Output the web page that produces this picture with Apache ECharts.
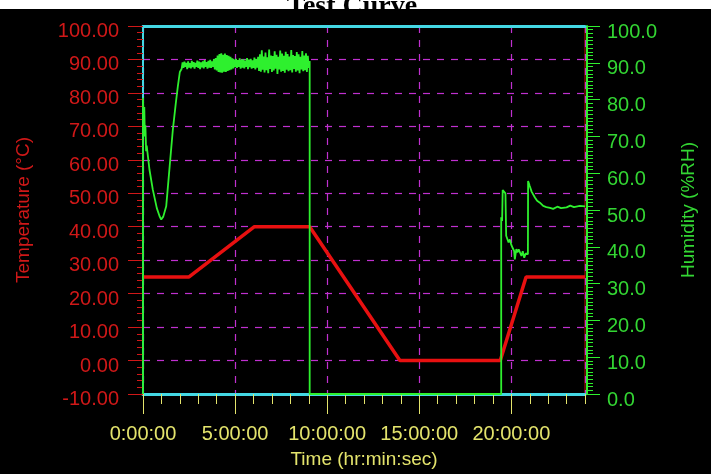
<!DOCTYPE html>
<html>
<head>
<meta charset="utf-8">
<script src="https://cdn.jsdelivr.net/npm/echarts@6/dist/echarts.min.js"></script>
<style>
html,body{margin:0;padding:0;}
body{background:linear-gradient(#ffffff 0px,#ffffff 9px,#000000 9px,#000000 100%);width:711px;height:474px;overflow:hidden;}
#chart{width:711px;height:474px;}
</style>
</head>
<body>
<div id="chart"></div>
<script>
// Temperature profile [hours, °C]
var temperature = [[0, 25], [2.5, 25], [6.05, 40], [9.05, 40], [13.95, 0], [19.4, 0], [20.8, 25], [24, 25]];

// Humidity [hours, %RH] — start and pull-down
var humStart = [
  [0, 0], [0, 80.5], [0.04, 74], [0.07, 78], [0.10, 70], [0.13, 73], [0.17, 66], [0.20, 67.5], [0.35, 61],
  [0.53, 55.6], [0.75, 50.5], [0.90, 48.3], [0.99, 47.4], [1.10, 48.2], [1.26, 51], [1.45, 62], [1.62, 71.8],
  [1.78, 79], [1.89, 83.5], [2.00, 87.5]
];
// Humidity plateau around 90 %RH
var humPlateau = [
  [2.10, 88.4], [2.15, 90.1], [2.20, 88.6], [2.25, 90.3], [2.30, 88.9], [2.35, 90.0], [2.40, 88.3], [2.45, 90.4],
  [2.50, 88.7], [2.55, 89.9], [2.60, 88.5], [2.65, 90.5], [2.70, 88.8], [2.75, 90.2], [2.80, 88.4], [2.85, 90.0],
  [2.90, 88.9], [2.95, 90.6], [3.00, 88.6], [3.05, 90.3], [3.10, 88.3], [3.15, 90.1], [3.20, 88.8], [3.25, 90.4],
  [3.30, 88.5], [3.35, 90.7], [3.40, 88.9], [3.45, 90.2], [3.50, 88.4], [3.55, 90.5], [3.60, 88.7], [3.65, 90.8],
  [3.70, 88.6], [3.75, 90.4], [3.80, 88.9], [3.85, 91.0], [3.90, 88.2], [3.95, 91.3],
  [4.00, 87.9], [4.05, 92.0], [4.10, 87.5], [4.15, 92.4], [4.20, 87.4], [4.25, 92.6], [4.30, 87.3], [4.35, 92.2],
  [4.40, 87.6], [4.45, 92.5], [4.50, 87.5], [4.55, 92.1], [4.60, 87.8], [4.65, 91.9], [4.70, 88.0], [4.75, 91.6],
  [4.80, 88.2], [4.85, 91.2],
  [4.90, 88.5], [4.95, 90.9], [5.00, 88.8], [5.05, 91.1], [5.10, 88.6], [5.15, 90.7], [5.20, 88.9], [5.25, 91.2],
  [5.30, 88.4], [5.35, 90.8], [5.40, 88.7], [5.45, 91.0], [5.50, 88.5], [5.55, 90.6], [5.60, 88.9], [5.65, 91.3],
  [5.70, 88.3], [5.75, 90.9], [5.80, 88.8], [5.85, 91.1], [5.90, 88.4], [5.95, 90.7], [6.00, 88.6], [6.05, 91.4],
  [6.10, 88.2], [6.15, 91.0], [6.20, 88.7], [6.25, 91.6],
  [6.30, 87.8], [6.35, 92.3], [6.40, 87.6], [6.45, 93.4], [6.50, 88.1], [6.55, 91.7], [6.60, 87.4], [6.65, 92.8],
  [6.70, 88.0], [6.75, 91.5], [6.80, 87.2], [6.85, 93.6], [6.90, 88.3], [6.95, 92.0], [7.00, 87.5], [7.05, 91.8],
  [7.10, 87.9], [7.15, 93.1], [7.20, 88.4], [7.25, 92.2], [7.30, 87.0], [7.35, 91.6], [7.40, 88.2], [7.45, 93.3],
  [7.50, 87.6], [7.55, 92.5], [7.60, 87.8], [7.65, 91.9], [7.70, 87.3], [7.75, 93.0], [7.80, 88.1], [7.85, 92.4],
  [7.90, 87.7], [7.95, 91.7], [8.00, 88.0], [8.05, 93.5], [8.10, 87.4], [8.15, 92.1], [8.20, 88.3], [8.25, 91.8],
  [8.30, 87.6], [8.35, 92.9], [8.40, 87.9], [8.45, 92.3], [8.50, 87.2], [8.55, 91.6], [8.60, 88.2], [8.65, 93.2],
  [8.70, 87.7], [8.75, 92.0], [8.80, 88.0], [8.85, 92.6], [8.90, 87.5], [8.95, 91.9], [9.00, 88.6], [9.05, 90.5]
];
// Humidity off, then recovery
var humEnd = [
  [9.05, 0], [19.45, 0], [19.45, 48], [19.50, 47], [19.53, 55.4], [19.60, 55.0], [19.68, 54.5], [19.72, 43],
  [19.80, 42.5], [19.85, 41.2], [19.92, 42], [20.00, 40.5], [20.08, 39.6], [20.15, 38.9], [20.19, 36.6],
  [20.27, 39.4], [20.33, 38.5], [20.40, 39.3], [20.46, 38.9], [20.55, 37.5], [20.62, 38.8], [20.70, 37.0],
  [20.78, 38.2], [20.83, 37.9], [20.90, 38.0], [20.91, 57.9], [21.00, 56.5], [21.10, 55], [21.28, 53.4],
  [21.40, 52.5], [21.55, 52], [21.73, 51.1], [21.90, 50.8], [22.10, 50.6], [22.27, 50.3], [22.50, 50.9],
  [22.70, 50.5], [23.00, 50.7], [23.20, 51.2], [23.40, 50.8], [23.72, 51.1], [24.00, 51.0]
];

var xMajorTicks = [0, 5, 10, 15, 20];
var tempTickLabels = ['-10.00','0.00','10.00','20.00','30.00','40.00','50.00','60.00','70.00','80.00','90.00','100.00'];
var humTickLabels = ['0.0','10.0','20.0','30.0','40.0','50.0','60.0','70.0','80.0','90.0','100.0'];

var humData = humStart.concat(humPlateau, humEnd);

var RED_TXT = '#d01818', RED_LINE = '#e81010', GREEN = '#2ef02e', GREEN_TXT = '#33d633';
var YELLOW = '#e4e46c', CYAN = '#44d8e4', MAGENTA = '#c030d0';
var LABF = "'Liberation Sans',Arial,sans-serif";

var chart = echarts.init(document.getElementById('chart'));
chart.setOption({
  backgroundColor: 'transparent',
  animation: false,
  title: {
    text: 'Test Curve.',
    left: 'center',
    top: -12,
    textStyle: { fontFamily: "'Liberation Serif','Times New Roman',serif", fontWeight: 'bold', fontSize: 28, color: '#000' }
  },
  grid: { left: 143, right: 126, top: 26, bottom: 79, show: true, borderColor: '#c01010', borderWidth: 1, backgroundColor: '#000' },
  xAxis: [
    {
      type: 'value', min: 0, max: 24, interval: 5, position: 'bottom',
      axisLine: { show: true, onZero: false, lineStyle: { color: CYAN, width: 3 } },
      axisTick: { show: true, inside: false, length: 20, lineStyle: { color: YELLOW, width: 1 } },
      axisLabel: {
        color: YELLOW, fontFamily: LABF, fontSize: 20, margin: 30, showMaxLabel: false,
        formatter: function(v){ var i = xMajorTicks.indexOf(v); return i >= 0 ? xMajorTicks[i] + ':00:00' : ''; }
      },
      splitLine: { show: true, lineStyle: { color: MAGENTA, type: [7, 7], width: 1.2 } },
      name: 'Time (hr:min:sec)', nameLocation: 'middle', nameGap: 56,
      nameTextStyle: { color: YELLOW, fontFamily: LABF, fontSize: 19 }
    },
    {
      type: 'value', min: 0, max: 24, interval: 1, position: 'bottom',
      axisLine: { show: false, onZero: false },
      axisTick: { show: true, inside: false, length: 10, lineStyle: { color: YELLOW, width: 1 } },
      axisLabel: { show: false }, splitLine: { show: false }
    },
    {
      type: 'value', min: 0, max: 24, interval: 5, position: 'top',
      axisLine: { show: true, onZero: false, lineStyle: { color: CYAN, width: 3 } },
      axisTick: { show: false }, axisLabel: { show: false }, splitLine: { show: false }
    }
  ],
  yAxis: [
    {
      type: 'value', min: -10, max: 100, interval: 10, position: 'left',
      axisLine: { show: true, onZero: false, lineStyle: { color: CYAN, width: 2 } },
      axisTick: { show: true, inside: false, length: 15, lineStyle: { color: RED_TXT, width: 1 } },
      minorTick: { show: true, splitNumber: 5, length: 6, lineStyle: { color: RED_TXT, width: 1 } },
      axisLabel: {
        color: RED_TXT, fontFamily: LABF, fontSize: 20, margin: 24,
        formatter: function(v){ return '{t|' + tempTickLabels[Math.round((v + 10) / 10)] + '}'; },
        rich: { t: { color: RED_TXT, fontFamily: LABF, fontSize: 20, padding: [11, 0, 0, 0] } }
      },
      splitLine: { show: true, lineStyle: { color: MAGENTA, type: [7, 7], width: 1.2 } },
      name: 'Temperature (°C)', nameLocation: 'middle', nameGap: 110, nameRotate: 90,
      nameTextStyle: { color: RED_TXT, fontFamily: LABF, fontSize: 19 }
    },
    {
      type: 'value', min: 0, max: 100, interval: 10, position: 'right', offset: 2,
      axisLine: { show: true, onZero: false, lineStyle: { color: GREEN, width: 2 } },
      axisTick: { show: true, inside: false, length: 13, lineStyle: { color: GREEN, width: 1 } },
      minorTick: { show: true, splitNumber: 10, length: 6, lineStyle: { color: GREEN, width: 1 } },
      axisLabel: {
        color: GREEN_TXT, fontFamily: LABF, fontSize: 20, margin: 20,
        formatter: function(v){ return '{h|' + humTickLabels[Math.round(v / 10)] + '}'; },
        rich: { h: { color: GREEN_TXT, fontFamily: LABF, fontSize: 20, padding: [12, 0, 0, 0] } }
      },
      splitLine: { show: false },
      name: 'Humidity (%RH)', nameLocation: 'middle', nameGap: 92, nameRotate: 90,
      nameTextStyle: { color: GREEN_TXT, fontFamily: LABF, fontSize: 19 }
    }
  ],
  series: [
    {
      name: 'Temperature', type: 'line', xAxisIndex: 0, yAxisIndex: 0, data: temperature,
      showSymbol: false, symbol: 'none', lineStyle: { color: RED_LINE, width: 3.5 }, clip: false, z: 3
    },
    {
      name: 'Humidity', type: 'line', xAxisIndex: 0, yAxisIndex: 1, data: humData,
      showSymbol: false, symbol: 'none', lineStyle: { color: GREEN, width: 1.8 }, clip: false, z: 4
    }
  ]
});
</script>
</body>
</html>
